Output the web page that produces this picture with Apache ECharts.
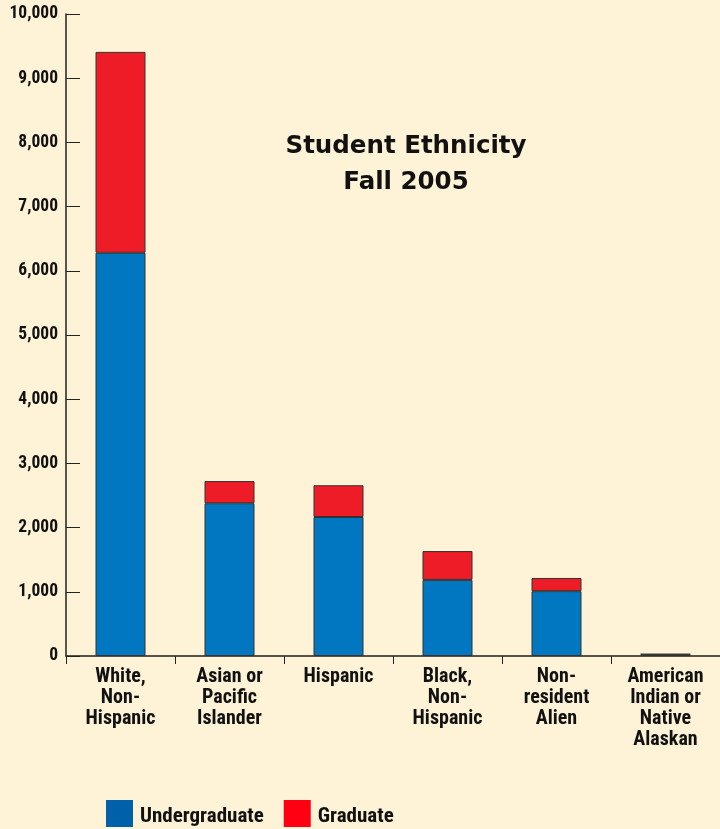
<!DOCTYPE html>
<html>
<head>
<meta charset="utf-8">
<script src="https://cdn.jsdelivr.net/npm/echarts@6/dist/echarts.min.js"></script>
<style>
html,body{margin:0;padding:0;background:#fef3d6;}
#c{width:720px;height:829px;}
</style>
</head>
<body>
<div id="c"></div>
<script>
var categories = ['White,\nNon-\nHispanic', 'Asian or\nPacific\nIslander', 'Hispanic', 'Black,\nNon-\nHispanic', 'Non-\nresident\nAlien', 'American\nIndian or\nNative\nAlaskan'];
var undergraduate = [6280, 2380, 2165, 1185, 1010, 25];
var graduate = [3130, 345, 495, 450, 205, 5];
var yTicks = [0, 1000, 2000, 3000, 4000, 5000, 6000, 7000, 8000, 9000, 10000];

var narrow = '"Liberation Sans Narrow", "Roboto Condensed", "Liberation Sans", sans-serif';
var chart = echarts.init(document.getElementById('c'));
chart.setOption({
  backgroundColor: '#fef3d6',
  animation: false,
  title: {
    text: 'Student Ethnicity\nFall 2005',
    left: 401, top: 124, textAlign: 'center',
    textStyle: {fontFamily: '"DejaVu Sans", "Liberation Sans", Arial, sans-serif', fontWeight: 'bold', fontSize: 24.5, lineHeight: 36, color: '#111'}
  },
  legend: {
    left: 106, top: 800, padding: 0, icon: 'rect', itemWidth: 27, itemHeight: 27, itemGap: 20,
    formatter: '{t|{name}}',
    textStyle: {
      fontFamily: narrow, fontWeight: 'bold', fontSize: 21, color: '#111',
      rich: {t: {fontFamily: narrow, fontWeight: 'bold', fontSize: 21, color: '#111', lineHeight: 21, padding: [6, 0, 0, 2]}}
    },
    data: [
      {name: 'Undergraduate', itemStyle: {color: '#0060aa', borderWidth: 0}},
      {name: 'Graduate', itemStyle: {color: '#ff0012', borderWidth: 0}}
    ]
  },
  grid: {left: 66, right: 0, top: 14, bottom: 173},
  xAxis: {
    type: 'category', data: categories,
    axisLine: {lineStyle: {color: '#222', width: 1.5}},
    axisTick: {show: true, length: 8, lineStyle: {color: '#222'}},
    axisLabel: {interval: 0, fontFamily: narrow, fontWeight: 'bold', fontSize: 20, lineHeight: 21, color: '#111', margin: 10}
  },
  yAxis: {
    type: 'value', min: 0, max: 10000, interval: 1000,
    axisLine: {show: true, lineStyle: {color: '#222', width: 1.5}},
    axisTick: {show: true, inside: true, length: 14, lineStyle: {color: '#222'}},
    splitLine: {show: false},
    axisLabel: {fontFamily: narrow, fontWeight: 'bold', fontSize: 17.5, color: '#111', margin: 8}
  },
  series: [
    {name: 'Undergraduate', type: 'bar', stack: 'all', barWidth: 50, data: undergraduate,
     itemStyle: {color: '#0077c0', borderColor: '#333', borderWidth: 1}},
    {name: 'Graduate', type: 'bar', stack: 'all', barWidth: 50, data: graduate,
     itemStyle: {color: '#ee1c27', borderColor: '#333', borderWidth: 1}}
  ]
});
</script>
</body>
</html>
